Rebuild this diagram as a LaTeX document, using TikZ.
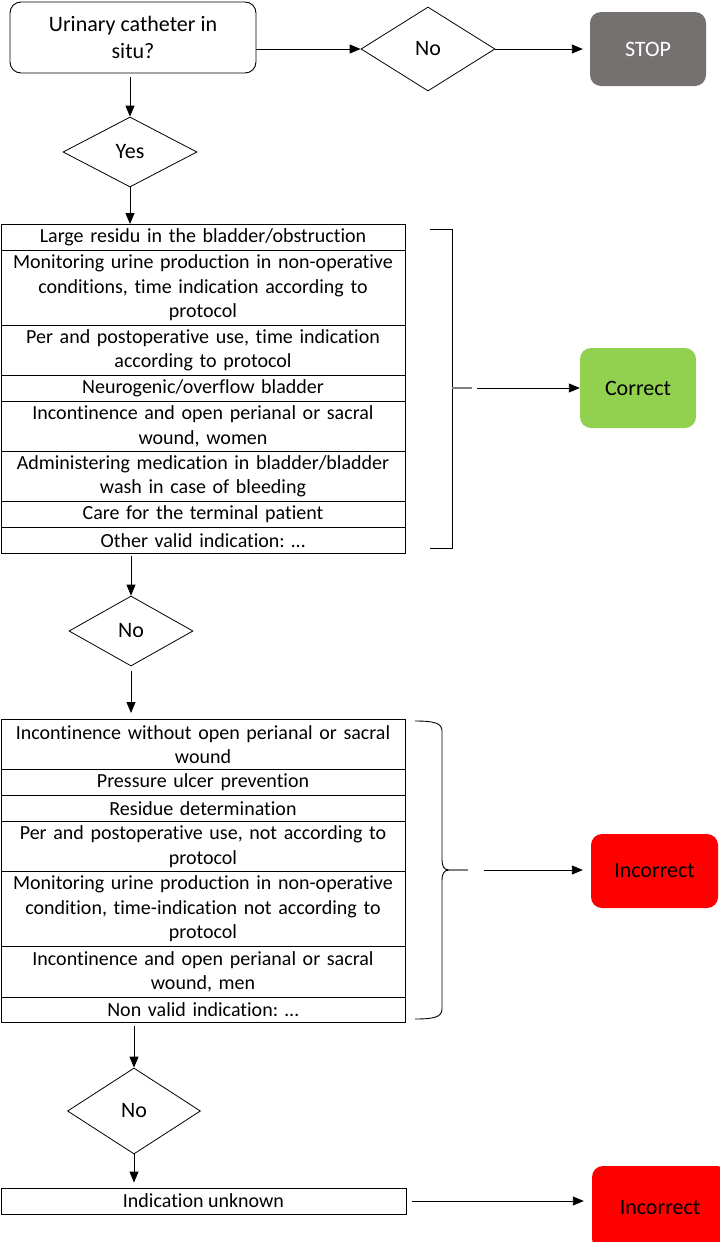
\documentclass[tikz,border=0pt]{standalone}
\usepackage{fontspec}
\setmainfont{Carlito}[RawFeature={-liga;-clig;-calt;-dlig}]
\usetikzlibrary{shapes.geometric,arrows.meta}
\definecolor{stopgray}{HTML}{767171}
\definecolor{okgreen}{HTML}{92D050}
\definecolor{badred}{HTML}{FF0000}
\frenchspacing
\begin{document}
\begin{tikzpicture}[x=1pt,y=-1pt,
  every node/.style={font=\fontsize{22}{26.5}\selectfont},
  row/.style={draw, line width=0.9pt, rectangle, minimum width=404pt, text width=400pt,
    align=center, inner sep=0pt, anchor=north, font=\fontsize{20}{24.5}\selectfont},
  dia/.style={draw, diamond, line width=0.8pt, inner sep=0pt},
  term/.style={rounded corners=11pt, inner sep=0pt, align=center},
  arr/.style={line width=0.9pt, -{Triangle[length=11pt,width=9pt]}},
  ln/.style={line width=0.9pt},
  tick/.style={line width=1.2pt, gray}
]
\useasboundingbox (0,0) rectangle (720,1242);

% top row
\node[term, draw, line width=0.9pt, minimum width=246pt, minimum height=71pt] (start) at (133,37.5) {Urinary catheter in\\situ?};
\node[dia, minimum width=134pt, minimum height=84pt] (d1) at (428,49) {No};
\node[term, fill=stopgray, text=white, minimum width=116pt, minimum height=74pt] (stop) at (648,49) {STOP};
\node[dia, minimum width=134pt, minimum height=70pt] (d2) at (130,152) {Yes};

\draw[arr] (start.east |- d1.west) -- (d1.west);
\draw[arr, shorten >=7pt] (d1.east) -- (stop.west);
\draw[arr, shorten <=4pt] (start.south -| d2.north) -- (d2.north);

% table 1
\node[row, minimum height=26pt] (a1) at (203,224) {Large residu in the bladder/obstruction};
\node[row, minimum height=75pt] (a2) at (203,250) {Monitoring urine production in non-operative\\conditions, time indication according to\\protocol};
\node[row, minimum height=50pt] (a3) at (203,325) {Per and postoperative use, time indication\\according to protocol};
\node[row, minimum height=26pt] (a4) at (203,375) {Neurogenic/overflow bladder};
\node[row, minimum height=50pt] (a5) at (203,401) {Incontinence and open perianal or sacral\\wound, women};
\node[row, minimum height=50pt] (a6) at (203,451) {Administering medication in bladder/bladder\\wash in case of bleeding};
\node[row, minimum height=26pt] (a7) at (203,501) {Care for the terminal patient};
\node[row, minimum height=26pt] (a8) at (203,527) {Other valid indication: …};

\draw[arr] (d2.south) -- (d2.south |- a1.north);

% bracket 1 and Correct
\coordinate (b1t) at (430,229);
\coordinate (b1b) at (430,548);
\coordinate (b1m) at (452,388);
\coordinate (b1g) at (477,388);
\draw[ln] (b1t) -- (452,229) -- (452,548) -- (b1b);
\draw[tick] (b1m) -- (472,388);
\node[term, fill=okgreen, minimum width=116pt, minimum height=80pt] (ok) at (638,388) {Correct};
\draw[arr] (b1g) -- (ok.west);

% No 2
\node[dia, minimum width=124pt, minimum height=70pt] (d3) at (131,631) {No};
\draw[arr, shorten <=2pt] (a8.south -| d3.north) -- (d3.north);

% table 2
\node[row, minimum height=50pt] (r1) at (203,719) {Incontinence without open perianal or sacral\\wound};
\node[row, minimum height=26pt] (r2) at (203,769) {Pressure ulcer prevention};
\node[row, minimum height=26pt] (r3) at (203,795) {Residue determination};
\node[row, minimum height=50pt] (r4) at (203,821) {Per and postoperative use, not according to\\protocol};
\node[row, minimum height=75pt] (r5) at (203,871) {Monitoring urine production in non-operative\\condition, time-indication not according to\\protocol};
\node[row, minimum height=51pt] (r6) at (203,946) {Incontinence and open perianal or sacral\\wound, men};
\node[row, minimum height=25pt] (r7) at (203,997) {Non valid indication: …};

\draw[arr, shorten <=5pt, shorten >=6pt] (d3.south) -- (d3.south |- r1.north);

% brace 2 and Incorrect
\coordinate (c2t) at (415,721);
\coordinate (c2b) at (415,1019);
\coordinate (c2m) at (449,870);
\coordinate (c2g) at (484,870);
\draw[ln] (c2t) .. controls (434,721) and (442,723) .. (442,731) -- (442,860)
  .. controls (442,866) and (444,870) .. (c2m)
  .. controls (444,870) and (442,874) .. (442,880) -- (442,1009)
  .. controls (442,1017) and (434,1019) .. (c2b);
\draw[tick] (c2m) -- (468,870);
\node[term, fill=badred, minimum width=127pt, minimum height=74pt] (bad1) at (654.5,871) {Incorrect};
\draw[arr, shorten >=8pt] (c2g) -- (bad1.west |- c2g);

% No 3
\node[dia, minimum width=133pt, minimum height=86pt] (d4) at (134,1111) {No};
\draw[arr, shorten <=3pt] (r7.south -| d4.north) -- (d4.north);

\node[draw, line width=0.9pt, rectangle, minimum width=405pt, minimum height=26pt, inner sep=0pt, font=\fontsize{20}{24.5}\selectfont] (unk) at (203.5,1201) {Indication unknown};
\draw[arr, shorten >=5pt] (d4.south) -- (d4.south |- unk.north);

\begin{scope}
\clip (0,0) rectangle (720,1242);
\node[term, fill=badred, minimum width=136pt, minimum height=84pt] (bad2) at (660,1208) {Incorrect};
\end{scope}
\draw[arr, shorten <=6pt, shorten >=8pt] (unk.east) -- (bad2.west |- unk.east);
\end{tikzpicture}
\end{document}
